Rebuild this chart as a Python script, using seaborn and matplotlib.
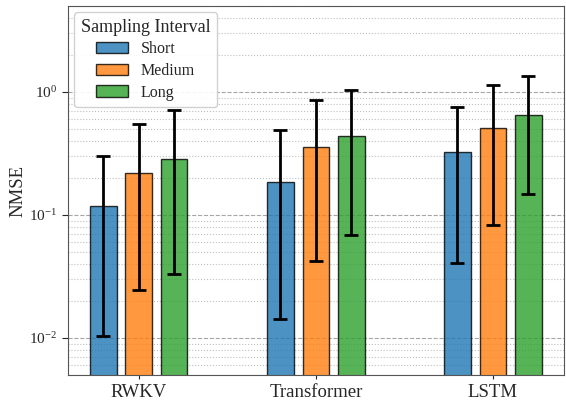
import matplotlib
matplotlib.use('Agg')
import matplotlib.pyplot as plt
import seaborn as sns
import pandas as pd
import numpy as np

sns.set_style('white')
plt.rcParams['font.family'] = ['Liberation Serif', 'DejaVu Serif']
plt.rcParams['mathtext.fontset'] = 'stix'

# values
models = ['RWKV', 'Transformer', 'LSTM']
intervals = ['Short', 'Medium', 'Long']
nmse_short = [0.119, 0.187, 0.325]
nmse_medium = [0.221, 0.354, 0.505]
nmse_long = [0.287, 0.435, 0.655]
low_short = [0.0104, 0.0142, 0.0405]
low_medium = [0.0245, 0.0423, 0.0827]
low_long = [0.033, 0.069, 0.148]
high_short = [0.303, 0.49, 0.756]
high_medium = [0.554, 0.861, 1.14]
high_long = [0.72, 1.03, 1.355]

means = {'Short': nmse_short, 'Medium': nmse_medium, 'Long': nmse_long}
lows = {'Short': low_short, 'Medium': low_medium, 'Long': low_long}
highs = {'Short': high_short, 'Medium': high_medium, 'Long': high_long}

rows = []
for iv in intervals:
    for m, v in zip(models, means[iv]):
        rows.append({'Model': m, 'Sampling Interval': iv, 'NMSE': v})
df = pd.DataFrame(rows)

fig, ax = plt.subplots(figsize=(5.66, 4.0), dpi=100)
sns.barplot(data=df, x='Model', y='NMSE', hue='Sampling Interval',
            order=models, hue_order=intervals,
            palette=['#1f77b4', '#ff7f0e', '#2ca02c'], saturation=1,
            width=0.6, gap=0.25, errorbar=None, alpha=0.8,
            edgecolor='black', linewidth=1, ax=ax)

for cont, iv in zip(ax.containers, intervals):
    xs = [b.get_x() + b.get_width() / 2 for b in cont]
    ys = np.array(means[iv])
    err = [ys - np.array(lows[iv]), np.array(highs[iv]) - ys]
    ax.errorbar(xs, ys, yerr=err, fmt='none', ecolor='black',
                elinewidth=2, capsize=5, capthick=2, zorder=5)

ax.set_yscale('log')
ax.set_ylim(0.005, 5)
ax.set_xlim(-0.4, 2.4)
ax.set_xlabel('')
ax.set_ylabel('NMSE', fontsize=13.5, labelpad=2)
ax.tick_params(axis='x', labelsize=13.5, bottom=True, length=3)
ax.tick_params(axis='y', which='major', labelsize=11, left=True, length=4)
ax.tick_params(axis='y', which='minor', left=False, length=0)
ax.grid(True, which='major', axis='y', linestyle='--', color='gray', alpha=0.7, linewidth=0.8)
ax.grid(True, which='minor', axis='y', linestyle=':', color='gray', alpha=0.5, linewidth=0.8)
ax.set_axisbelow(True)
for s in ax.spines.values():
    s.set_color('#555555')

leg = ax.legend(title='Sampling Interval', loc='upper left', fontsize=11.5,
                title_fontsize=13, framealpha=0.9, edgecolor='#cccccc',
                labelspacing=0.35, borderaxespad=0.4)

fig.subplots_adjust(left=0.12, right=0.996, top=0.985, bottom=0.0625)
fig.savefig('out.png', dpi=100)
